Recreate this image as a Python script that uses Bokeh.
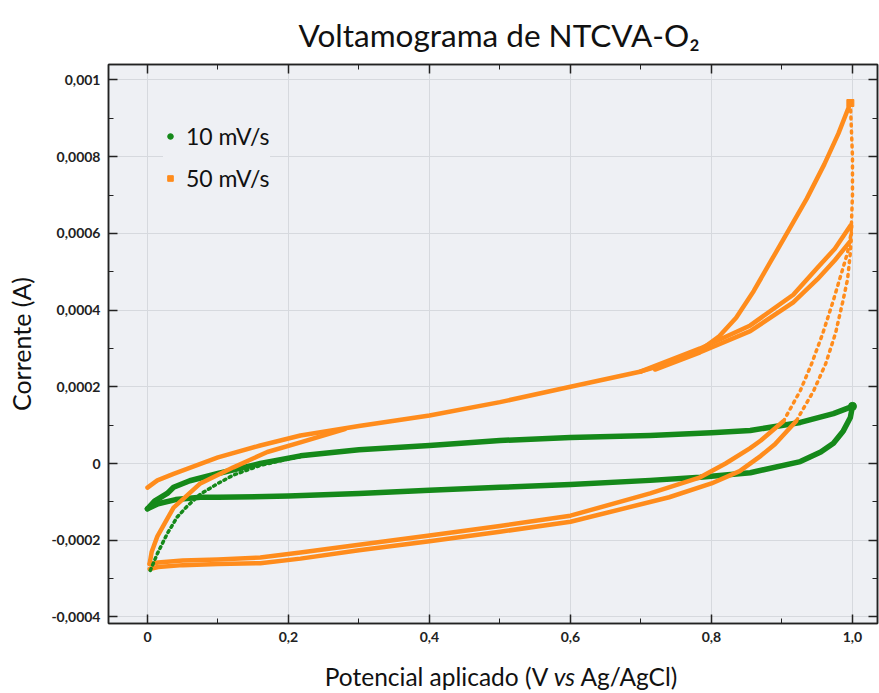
from bokeh.plotting import figure
from bokeh.models import FixedTicker, Range1d, LinearAxis, Legend, LegendItem, Div
from bokeh.layouts import column
from bokeh.embed import file_html
from bokeh.resources import INLINE

# ---------------- data ----------------
x_ticks = [0, 0.2, 0.4, 0.6, 0.8, 1.0]
x_tick_labels = ["0", "0,2", "0,4", "0,6", "0,8", "1,0"]
x_minor = [0.1, 0.3, 0.5, 0.7, 0.9]
y_ticks = [-0.0004, -0.0002, 0, 0.0002, 0.0004, 0.0006, 0.0008, 0.001]
y_tick_labels = ["-0,0004", "-0,0002", "0", "0,0002", "0,0004", "0,0006", "0,0008", "0,001"]
y_minor = [-0.0003, -0.0001, 0.0001, 0.0003, 0.0005, 0.0007, 0.0009]

# 10 mV/s (green)
g_init_x = [0.004, 0.014, 0.028, 0.042, 0.057, 0.075, 0.1, 0.122, 0.16, 0.2, 0.25]
g_init_y = [-0.000279, -0.000235, -0.000183, -0.00014, -0.00011, -0.00008, -0.000052, -0.00003, -0.000005, 0.000012, 0.000028]
g_up_x = [0.0, 0.01, 0.028, 0.037, 0.06, 0.1, 0.16, 0.217, 0.3, 0.4, 0.5, 0.6, 0.713, 0.8, 0.855, 0.926, 0.973, 1.0]
g_up_y = [-0.000118, -0.000098, -0.000078, -0.000062, -0.000045, -0.000026, 0.0, 0.00002, 0.000036, 0.000047, 0.00006,
          0.000068, 0.000073, 0.00008, 0.000086, 0.000107, 0.00013, 0.000149]
g_down_x = [1.0, 0.997, 0.987, 0.973, 0.955, 0.926, 0.855, 0.784, 0.713, 0.6, 0.5, 0.4, 0.3, 0.2, 0.1, 0.075, 0.04, 0.015, 0.0]
g_down_y = [0.000149, 0.00012, 0.000085, 0.000053, 0.00003, 0.000005, -0.000024, -0.000036, -0.000044, -0.000055,
            -0.000062, -0.00007, -0.000078, -0.000085, -0.000088, -0.000088, -0.000094, -0.000105, -0.000118]

# 50 mV/s (orange)
o_up_x = [0.0, 0.014, 0.037, 0.1, 0.16, 0.217, 0.3, 0.4, 0.5, 0.6, 0.7]
o_up_y = [-0.000063, -0.000044, -0.000027, 0.000016, 0.000047, 0.000073, 0.000098, 0.000125, 0.00016, 0.0002, 0.00024]
o_rise_x = [0.003, 0.006, 0.014, 0.037, 0.075, 0.122, 0.17, 0.217, 0.28]
o_rise_y = [-0.000262, -0.00023, -0.00019, -0.000115, -0.000052, -0.00001, 0.00003, 0.000055, 0.00009]
o_hi_x = [0.7, 0.74, 0.78, 0.81, 0.835, 0.86, 0.885, 0.91, 0.935, 0.96, 0.98, 0.997]
o_hi_y = [0.00024, 0.000262, 0.00029, 0.00033, 0.00038, 0.00045, 0.00053, 0.00061, 0.00069, 0.00078, 0.00086, 0.00094]
o_mid1_x = [0.7, 0.784, 0.855, 0.916, 0.95, 0.975, 0.997]
o_mid1_y = [0.00024, 0.0003, 0.00036, 0.00044, 0.00051, 0.00056, 0.00062]
o_mid2_x = [0.72, 0.784, 0.855, 0.916, 0.95, 0.975, 0.997]
o_mid2_y = [0.000245, 0.00029, 0.000345, 0.00042, 0.00048, 0.00053, 0.00058]
o_rev1_x = [0.997, 1.0, 1.0, 0.998, 0.993, 0.985, 0.972, 0.958, 0.942, 0.926, 0.902]
o_rev1_y = [0.00094, 0.0008, 0.0007, 0.0006, 0.00055, 0.0005, 0.00042, 0.00034, 0.00026, 0.00019, 0.00011]
o_rev2_x = [0.999, 0.997, 0.993, 0.986, 0.976, 0.962, 0.945, 0.92]
o_rev2_y = [0.00062, 0.00055, 0.00048, 0.00042, 0.00034, 0.00026, 0.00019, 0.00011]
o_low1_x = [0.902, 0.87, 0.855, 0.82, 0.784, 0.713, 0.6, 0.5, 0.4, 0.3, 0.217, 0.16, 0.1, 0.05, 0.015, 0.003]
o_low1_y = [0.00011, 0.00006, 0.00004, 0.0, -0.000036, -0.000078, -0.000136, -0.000163, -0.000188, -0.000212,
            -0.000232, -0.000245, -0.00025, -0.000253, -0.000258, -0.000262]
o_low2_x = [0.92, 0.89, 0.87, 0.84, 0.80, 0.74, 0.6, 0.5, 0.4, 0.3, 0.217, 0.16, 0.1, 0.05, 0.015, 0.003]
o_low2_y = [0.00011, 0.00005, 0.00002, -0.00002, -0.000052, -0.000088, -0.000152, -0.000178, -0.000203, -0.000226,
            -0.000248, -0.00026, -0.000262, -0.000265, -0.00027, -0.000275]

series_labels = ["10 mV/s", "50 mV/s"]
title_text = "Voltamograma de NTCVA-O\u2082"
xlabel_parts = ["Potencial aplicado (V ", "vs", " Ag/AgCl)"]
ylabel_text = "Corrente (A)"

# ---------------- styling ----------------
GREEN = "#15891a"
ORANGE = "#ff8c1c"
BG = "#eef0f4"
FONT = "Lato"
AX = "#222222"

p = figure(width=879, height=653, output_backend="svg", toolbar_location=None,
           x_range=Range1d(-0.0553, 1.0355), y_range=Range1d(-0.0004172, 0.0010404),
           min_border_left=108, min_border_right=2, min_border_top=64, min_border_bottom=30,
           background_fill_color=BG, border_fill_color="white")

p.title.text = title_text
p.title.align = "left"
p.title.offset = 190
p.title.standoff = 22
p.title.text_font = FONT
p.title.text_font_size = "31.5px"
p.title.text_font_style = "normal"
p.title.text_color = "#111111"

def style_axis(ax, labels):
    ax.major_tick_in = 9
    ax.major_tick_out = 0
    ax.minor_tick_in = 5
    ax.minor_tick_out = 0
    ax.axis_line_color = AX
    ax.axis_line_width = 1.5
    ax.major_tick_line_color = AX
    ax.minor_tick_line_color = AX
    ax.major_tick_line_width = 1.5
    ax.major_label_text_font = FONT
    ax.major_label_text_font_style = "bold"
    ax.major_label_text_font_size = "14px"
    ax.major_label_text_color = AX
    if labels is None:
        ax.major_label_text_font_size = "0px"
        ax.major_label_standoff = 0

xt = FixedTicker(ticks=x_ticks, minor_ticks=x_minor)
yt = FixedTicker(ticks=y_ticks, minor_ticks=y_minor)

p.xaxis.ticker = xt
p.yaxis.ticker = yt
p.xaxis.major_label_overrides = dict(zip(x_ticks, x_tick_labels))
p.yaxis.major_label_overrides = dict(zip(y_ticks, y_tick_labels))
style_axis(p.xaxis[0], x_tick_labels)
style_axis(p.yaxis[0], y_tick_labels)
p.xaxis.major_label_standoff = 8
p.yaxis.major_label_standoff = 8

p.yaxis.axis_label = ylabel_text
p.yaxis.axis_label_text_font = FONT
p.yaxis.axis_label_text_font_size = "25px"
p.yaxis.axis_label_text_font_style = "normal"
p.yaxis.axis_label_text_color = "#111111"
p.yaxis.axis_label_standoff = 12

top_ax = LinearAxis(ticker=FixedTicker(ticks=x_ticks, minor_ticks=x_minor),
                    major_label_overrides={t: "" for t in x_ticks})
right_ax = LinearAxis(ticker=FixedTicker(ticks=y_ticks, minor_ticks=y_minor),
                      major_label_overrides={t: "" for t in y_ticks})
style_axis(top_ax, None)
style_axis(right_ax, None)
p.add_layout(top_ax, "above")
p.add_layout(right_ax, "right")

p.xgrid.ticker = xt
p.ygrid.ticker = yt
p.xgrid.grid_line_color = "#d6d9de"
p.ygrid.grid_line_color = "#d6d9de"
p.xgrid.grid_line_width = 1
p.ygrid.grid_line_width = 1
p.outline_line_color = AX
p.outline_line_width = 1.5

# ---------------- curves ----------------
GW = 5.5
OW = 4.5
p.line(g_up_x, g_up_y, line_color=GREEN, line_width=GW, line_cap="round", line_join="round")
p.line(g_down_x, g_down_y, line_color=GREEN, line_width=GW, line_cap="round", line_join="round")

for xs, ys in [(o_up_x, o_up_y), (o_rise_x, o_rise_y), (o_hi_x, o_hi_y), (o_mid1_x, o_mid1_y),
               (o_mid2_x, o_mid2_y), (o_low1_x, o_low1_y), (o_low2_x, o_low2_y)]:
    p.line(xs, ys, line_color=ORANGE, line_width=OW, line_cap="round", line_join="round")
for xs, ys in [(o_rev1_x, o_rev1_y), (o_rev2_x, o_rev2_y)]:
    p.line(xs, ys, line_color=ORANGE, line_width=3.5, line_dash="2 5", line_cap="round")

p.line(g_init_x, g_init_y, line_color=GREEN, line_width=3.5, line_dash="2 4", line_cap="round")

# legend markers: drawn on an end point of each series (hidden in the curve)
g_leg = p.scatter(g_up_x[-1:], g_up_y[-1:], marker="circle", size=8, color=GREEN)
o_leg = p.scatter(o_hi_x[-1:], o_hi_y[-1:], marker="square", size=7, color=ORANGE)

legend = Legend(items=[LegendItem(label=series_labels[0], renderers=[g_leg]),
                       LegendItem(label=series_labels[1], renderers=[o_leg])],
                location=(55, 430), glyph_width=14, glyph_height=30, label_height=30,
                spacing=12, padding=4, label_standoff=9, margin=0,
                label_text_font=FONT, label_text_font_size="23px", label_text_color="#111111",
                background_fill_color=BG, background_fill_alpha=1.0, border_line_color=None)
p.add_layout(legend)

# ---------------- x axis label (with italic "vs") ----------------
xlabel_html = (
    '<div style="width:879px; box-sizing:border-box; padding-left:113px; padding-top:7px; '
    'text-align:center; font-family:Lato; font-size:24.5px; line-height:24px; color:#111111; '
    'white-space:nowrap;">'
    + xlabel_parts[0] + "<i>" + xlabel_parts[1] + "</i>" + xlabel_parts[2] + "</div>"
)
xlabel_div = Div(text=xlabel_html, width=879, height=40)

layout = column(p, xlabel_div, spacing=0)

open("out.html", "w").write(file_html(layout, INLINE))
